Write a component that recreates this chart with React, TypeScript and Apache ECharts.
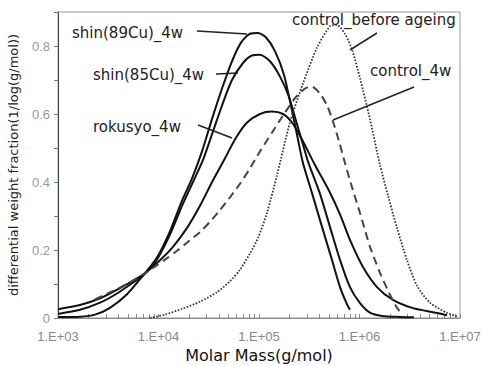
import React, { useEffect, useRef } from "react";
import * as echarts from "echarts";

// log10(molar mass) and differential weight fraction
const shin89LogM = [3.0, 3.219, 3.368, 3.517, 3.687, 3.846, 3.985, 4.114, 4.234, 4.333, 4.433, 4.532, 4.632, 4.731, 4.821, 4.91, 4.99, 5.07, 5.159, 5.249, 5.328, 5.388, 5.438, 5.527, 5.627, 5.726, 5.806, 5.876, 5.905];
const shin89Val = [0.003, 0.004, 0.01, 0.03, 0.07, 0.125, 0.178, 0.255, 0.345, 0.41, 0.49, 0.585, 0.675, 0.755, 0.81, 0.836, 0.838, 0.825, 0.785, 0.715, 0.61, 0.525, 0.455, 0.368, 0.268, 0.171, 0.091, 0.04, 0.024];

const shin85LogM = [3.0, 3.219, 3.418, 3.587, 3.746, 3.846, 3.985, 4.114, 4.234, 4.343, 4.443, 4.532, 4.632, 4.731, 4.841, 4.93, 5.01, 5.109, 5.209, 5.299, 5.368, 5.428, 5.488, 5.607, 5.706, 5.806, 5.905, 6.005, 6.104, 6.224, 6.403, 6.542];
const shin85Val = [0.012, 0.024, 0.045, 0.072, 0.104, 0.125, 0.172, 0.245, 0.33, 0.4, 0.465, 0.54, 0.625, 0.7, 0.75, 0.772, 0.774, 0.755, 0.71, 0.65, 0.58, 0.52, 0.46, 0.365, 0.268, 0.171, 0.091, 0.044, 0.016, 0.006, 0.003, 0.002];

const rokusyoLogM = [3.0, 3.219, 3.418, 3.617, 3.846, 4.015, 4.144, 4.284, 4.413, 4.542, 4.662, 4.771, 4.881, 5.01, 5.129, 5.239, 5.328, 5.428, 5.557, 5.687, 5.806, 5.905, 6.035, 6.174, 6.333, 6.532, 6.771, 6.871];
const rokusyoVal = [0.026, 0.038, 0.058, 0.088, 0.128, 0.17, 0.209, 0.265, 0.33, 0.405, 0.47, 0.53, 0.575, 0.6, 0.607, 0.6, 0.575, 0.525, 0.45, 0.38, 0.305, 0.23, 0.15, 0.091, 0.053, 0.029, 0.015, 0.008];

const control4wLogM = [3.368, 3.537, 3.687, 3.846, 3.985, 4.085, 4.194, 4.294, 4.413, 4.512, 4.612, 4.711, 4.811, 4.91, 5.01, 5.129, 5.249, 5.368, 5.458, 5.527, 5.607, 5.677, 5.736, 5.796, 5.856, 5.925, 6.005, 6.104, 6.204, 6.284, 6.363, 6.403];
const control4wVal = [0.055, 0.078, 0.1, 0.128, 0.155, 0.176, 0.2, 0.224, 0.253, 0.283, 0.318, 0.355, 0.395, 0.44, 0.49, 0.545, 0.6, 0.65, 0.675, 0.68, 0.66, 0.625, 0.578, 0.52, 0.455, 0.385, 0.309, 0.21, 0.133, 0.08, 0.035, 0.018];

const controlBeforeLogM = [3.915, 4.065, 4.244, 4.413, 4.582, 4.711, 4.811, 4.91, 4.99, 5.08, 5.179, 5.308, 5.438, 5.577, 5.706, 5.776, 5.856, 5.925, 6.005, 6.104, 6.204, 6.284, 6.373, 6.473, 6.572, 6.701, 6.871, 6.97];
const controlBeforeVal = [0.0, 0.01, 0.028, 0.048, 0.076, 0.108, 0.142, 0.19, 0.235, 0.31, 0.42, 0.575, 0.69, 0.795, 0.858, 0.862, 0.835, 0.79, 0.705, 0.585, 0.45, 0.36, 0.265, 0.17, 0.095, 0.045, 0.015, 0.005];

const xDecades = [3, 4, 5, 6, 7];
const yLabelValues = [0, 0.2, 0.4, 0.6, 0.8];
const xTitle = "Molar Mass(g/mol)";
const yTitle = "differential weight fraction(1/log(g/mol))";

const zip = (xs: number[], ys: number[]) => xs.map((x, i) => [x, ys[i]]);

const minorTicks: number[] = [];
for (let d = 3; d < 7; d++) {
  for (let k = 1; k <= 9; k++) minorTicks.push(d + Math.log10(k));
}
minorTicks.push(7);

export default function App() {
  const ref = useRef<HTMLDivElement>(null);
  useEffect(() => {
    if (!ref.current) return;
    const chart = echarts.init(ref.current, null, { renderer: "svg" });
    const annoFont = "DejaVu Sans";
    const annoColor = "#222";
    const text = (t: string, x: number, y: number) => ({
      type: "text",
      x,
      y,
      style: { text: t, fill: annoColor, font: `15px "${annoFont}"`, textVerticalAlign: "middle" },
      z: 10,
    });
    const line = (x1: number, y1: number, x2: number, y2: number) => ({
      type: "line",
      shape: { x1, y1, x2, y2 },
      style: { stroke: "#222", lineWidth: 1.5 },
      z: 10,
    });
    const solid = { color: "#111", width: 2, type: "solid" };
    const sm = 0.25;
    chart.setOption({
      animation: false,
      backgroundColor: "#fff",
      grid: {
        left: 58,
        right: 24,
        top: 12,
        bottom: 48,
        containLabel: false,
        outerBoundsMode: "none",
        show: true,
        borderColor: "#999",
        borderWidth: 1,
      },
      xAxis: {
        type: "value",
        min: 3,
        max: 7,
        interval: 1,
        name: xTitle,
        nameLocation: "middle",
        nameGap: 28,
        nameTextStyle: { fontFamily: "DejaVu Sans", fontSize: 16, color: "#111" },
        axisLine: { show: true, lineStyle: { color: "#888", width: 1 } },
        axisTick: { show: true, inside: true, length: 4, customValues: minorTicks, lineStyle: { color: "#888" } },
        axisLabel: {
          customValues: xDecades,
          formatter: (v: number) => "1.E+0" + Math.round(v),
          color: "#888",
          fontFamily: "Liberation Sans",
          fontSize: 13,
          margin: 12,
        },
        splitLine: { show: false },
      },
      yAxis: {
        type: "value",
        min: 0,
        max: 0.9,
        interval: 0.1,
        name: yTitle,
        nameLocation: "middle",
        nameGap: 38,
        nameTextStyle: { fontFamily: "DejaVu Sans", fontSize: 13, color: "#222" },
        axisLine: { show: true, lineStyle: { color: "#444", width: 1 } },
        axisTick: { show: true, inside: false, length: 4, lineStyle: { color: "#777" } },
        axisLabel: {
          customValues: yLabelValues,
          formatter: (v: number) => (v === 0 ? "0" : v.toFixed(1)),
          color: "#999",
          fontFamily: "Liberation Sans",
          fontSize: 13,
          margin: 8,
        },
        splitLine: { show: false },
      },
      series: [
        { name: "shin(89Cu)_4w", type: "line", data: zip(shin89LogM, shin89Val), showSymbol: false, smooth: sm, lineStyle: solid },
        { name: "shin(85Cu)_4w", type: "line", data: zip(shin85LogM, shin85Val), showSymbol: false, smooth: sm, lineStyle: solid },
        { name: "rokusyo_4w", type: "line", data: zip(rokusyoLogM, rokusyoVal), showSymbol: false, smooth: sm, lineStyle: solid },
        {
          name: "control_4w",
          type: "line",
          data: zip(control4wLogM, control4wVal),
          showSymbol: false,
          smooth: sm,
          lineStyle: { color: "#444", width: 2, type: [8, 5] },
        },
        {
          name: "control_before ageing",
          type: "line",
          data: zip(controlBeforeLogM, controlBeforeVal),
          showSymbol: false,
          smooth: sm,
          lineStyle: { color: "#333", width: 1.8, type: [1.6, 1.6] },
        },
      ],
      graphic: [
        text("shin(89Cu)_4w", 72, 33),
        line(197, 31, 247, 34),
        text("shin(85Cu)_4w", 93, 75),
        line(216, 74, 238, 73),
        text("rokusyo_4w", 93, 127),
        line(198, 125, 232, 138),
        text("control_before ageing", 292, 20),
        line(377, 33, 350, 50),
        text("control_4w", 370, 71),
        line(414, 87, 333, 120),
      ],
    });
    return () => chart.dispose();
  }, []);
  return (
    <div
      ref={ref}
      style={{ position: "absolute", left: 0, top: 0, width: 484, height: 366, background: "#fff" }}
    />
  );
}
